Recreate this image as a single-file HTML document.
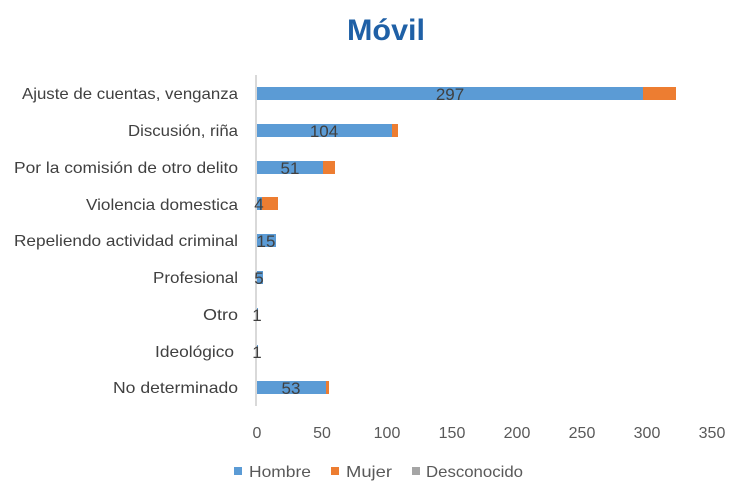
<!DOCTYPE html>
<html><head><meta charset="utf-8"><style>
html,body{margin:0;padding:0;background:#fff;}
svg{display:block;font-family:"Liberation Sans",Arial,sans-serif;}
</style></head><body>
<svg width="750" height="502" viewBox="0 0 750 502" xmlns="http://www.w3.org/2000/svg">
<rect width="750" height="502" fill="#fff"/>
<text x="386" y="40" text-anchor="middle" font-size="30" font-weight="bold" fill="#1F60A6" textLength="78" lengthAdjust="spacingAndGlyphs">Móvil</text>
<line x1="256" y1="75" x2="256" y2="406" stroke="#d9d9d9" stroke-width="2"/>
<g font-size="16" fill="#404040" text-anchor="end" lengthAdjust="spacingAndGlyphs">
<text x="238" y="99" textLength="216" lengthAdjust="spacingAndGlyphs">Ajuste de cuentas, venganza</text>
<text x="238" y="136" textLength="110" lengthAdjust="spacingAndGlyphs">Discusión, riña</text>
<text x="238" y="173" textLength="224" lengthAdjust="spacingAndGlyphs">Por la comisión de otro delito</text>
<text x="238" y="210" textLength="152" lengthAdjust="spacingAndGlyphs">Violencia domestica</text>
<text x="238" y="246" textLength="224" lengthAdjust="spacingAndGlyphs">Repeliendo actividad criminal</text>
<text x="238" y="283" textLength="85" lengthAdjust="spacingAndGlyphs">Profesional</text>
<text x="238" y="320" textLength="35" lengthAdjust="spacingAndGlyphs">Otro</text>
<text x="234" y="357" textLength="79" lengthAdjust="spacingAndGlyphs">Ideológico</text>
<text x="238" y="393" textLength="125" lengthAdjust="spacingAndGlyphs">No determinado</text>
</g>
<g>
<rect x="257" y="87" width="386" height="13" fill="#5B9BD5"/><rect x="643" y="87" width="33" height="13" fill="#ED7D31"/>
<rect x="257" y="124" width="135" height="13" fill="#5B9BD5"/><rect x="392" y="124" width="6" height="13" fill="#ED7D31"/>
<rect x="257" y="161" width="66" height="13" fill="#5B9BD5"/><rect x="323" y="161" width="12" height="13" fill="#ED7D31"/>
<rect x="257" y="197" width="5" height="13" fill="#5B9BD5"/><rect x="262" y="197" width="16" height="13" fill="#ED7D31"/>
<rect x="257" y="234" width="19" height="13" fill="#5B9BD5"/>
<rect x="257" y="271" width="6" height="13" fill="#5B9BD5"/>
<rect x="257" y="308" width="1" height="13" fill="#5B9BD5"/>
<rect x="257" y="345" width="1" height="13" fill="#5B9BD5"/>
<rect x="257" y="381" width="69" height="13" fill="#5B9BD5"/><rect x="326" y="381" width="3" height="13" fill="#ED7D31"/>
</g>
<g font-size="17" fill="#404040" text-anchor="middle">
<text x="450" y="100">297</text>
<text x="324" y="137">104</text>
<text x="290" y="174">51</text>
<text x="259" y="210">4</text>
<text x="266" y="247">15</text>
<text x="259" y="284">5</text>
<text x="257" y="321">1</text>
<text x="257" y="358">1</text>
<text x="291" y="394">53</text>
</g>
<g font-size="16" fill="#595959" text-anchor="middle">
<text x="257" y="438">0</text>
<text x="322" y="438">50</text>
<text x="387" y="438">100</text>
<text x="452" y="438">150</text>
<text x="517" y="438">200</text>
<text x="582" y="438">250</text>
<text x="647" y="438">300</text>
<text x="712" y="438">350</text>
</g>
<g font-size="16" fill="#595959">
<rect x="234" y="467" width="8" height="8" fill="#5B9BD5"/><text x="249" y="477" textLength="62" lengthAdjust="spacingAndGlyphs">Hombre</text>
<rect x="331" y="467" width="8" height="8" fill="#ED7D31"/><text x="346" y="477" textLength="46" lengthAdjust="spacingAndGlyphs">Mujer</text>
<rect x="412" y="467" width="8" height="8" fill="#A5A5A5"/><text x="426" y="477" textLength="97" lengthAdjust="spacingAndGlyphs">Desconocido</text>
</g>
</svg>
</body></html>
